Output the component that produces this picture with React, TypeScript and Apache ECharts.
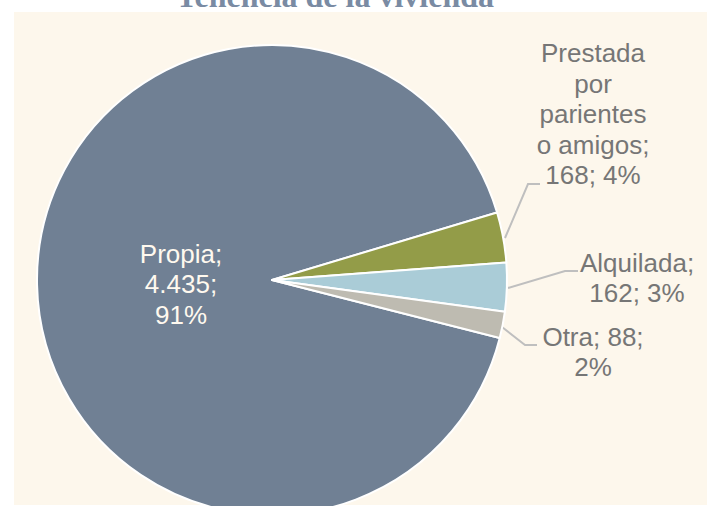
import React, { useEffect, useRef } from "react";
import * as echarts from "echarts";

// ---- data ----
const categories = ["Propia", "Prestada por parientes o amigos", "Alquilada", "Otra"];
const values = [4435, 168, 162, 88];
const percents = [91, 4, 3, 2];
const labelTemplates = [
  "Propia;\n{v};\n{p}%",
  "Prestada\npor\nparientes\no amigos;\n{v}; {p}%",
  "Alquilada;\n{v}; {p}%",
  "Otra; {v};\n{p}%",
];
const titleText = "Tenencia de la vivienda";

// ---- styles / layout ----
const sliceColors = ["#708094", "#939C48", "#AACCD7", "#BEBBB1"];
const labelPos = [
  { x: 181, y: 284 },
  { x: 593, y: 114 },
  { x: 637, y: 278 },
  { x: 593, y: 352 },
];
const leaderPts: number[][][] = [
  [],
  [[505, 238], [528, 184], [540, 184]],
  [[508, 288], [565, 271], [578, 271]],
  [[502, 327], [525, 345], [537, 345]],
];

const fmtNum = (n: number) => String(n).replace(/\B(?=(\d{3})+(?!\d))/g, ".");

export default function App() {
  const ref = useRef<HTMLDivElement>(null);
  useEffect(() => {
    if (!ref.current) return;
    const chart = echarts.init(ref.current, null, { renderer: "svg" });
    chart.setOption({
      animation: false,
      backgroundColor: "#FFFFFF",
      graphic: [
        {
          type: "rect",
          z: -10,
          silent: true,
          shape: { x: 14, y: 12, width: 693, height: 493 },
          style: { fill: "#FDF7EC" },
        },
        {
          type: "text",
          z: 10,
          x: 335,
          y: -4,
          style: {
            text: titleText,
            align: "center",
            verticalAlign: "middle",
            font: "bold 32px 'Liberation Serif', 'Times New Roman', serif",
            fill: "#7A8BA3",
          },
        },
      ],
      series: [
        {
          type: "pie",
          center: [272, 280],
          radius: 235,
          startAngle: -14.3,
          clockwise: true,
          avoidLabelOverlap: false,
          emphasis: { disabled: true },
          itemStyle: { borderColor: "#FFFFFF", borderWidth: 2 },
          data: categories.map((c, i) => ({
            name: c,
            value: values[i],
            itemStyle: { color: sliceColors[i] },
            label: i === 0 ? { position: "inside", color: "#FFF9EF" } : {},
            labelLine: { show: i !== 0 },
          })),
          label: {
            show: true,
            position: "outside",
            fontFamily: "'Liberation Sans', Arial, sans-serif",
            fontSize: 26,
            lineHeight: 30.5,
            color: "#767676",
            align: "center",
            formatter: (p: any) =>
              labelTemplates[p.dataIndex]
                .replace("{v}", fmtNum(values[p.dataIndex]))
                .replace("{p}", String(percents[p.dataIndex])),
          },
          labelLine: {
            show: true,
            lineStyle: { color: "#BFBFBF", width: 2 },
          },
          labelLayout: (p: any) => {
            const i = p.dataIndex;
            const o: any = {
              x: labelPos[i].x,
              y: labelPos[i].y,
              align: "center",
              verticalAlign: "middle",
              hideOverlap: false,
            };
            if (leaderPts[i].length) o.labelLinePoints = leaderPts[i];
            return o;
          },
        },
      ],
    });
    return () => chart.dispose();
  }, []);
  return (
    <div
      ref={ref}
      style={{ position: "fixed", left: 0, top: 0, width: 707, height: 506 }}
    />
  );
}
